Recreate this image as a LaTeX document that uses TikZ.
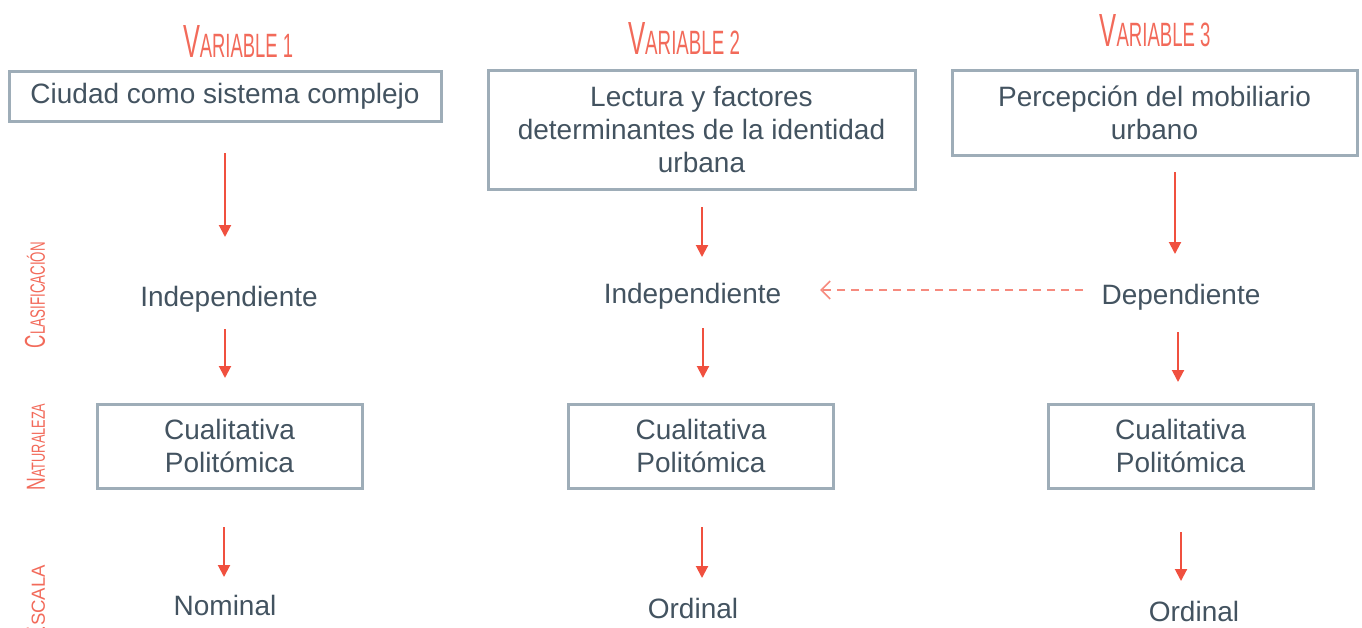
\documentclass[tikz,border=0pt]{standalone}
\usepackage{fontspec}
\setmainfont{Liberation Sans}
\usetikzlibrary{arrows.meta}
\definecolor{hdr}{HTML}{F26A5A}
\definecolor{arr}{HTML}{F0503F}
\definecolor{dashc}{HTML}{F68A7E}
\definecolor{bord}{HTML}{9EADB8}
\definecolor{txt}{HTML}{435360}
\newcommand\myhead[3]{\resizebox{#1}{#2}{\fontsize{40}{40}\selectfont V\fontsize{29}{29}\selectfont ARIABLE #3}}
\begin{document}
\begin{tikzpicture}[x=1pt,y=-1pt,
 box/.style={draw=bord, line width=3pt, text=txt, align=center, inner sep=0pt, font=\fontsize{28}{33}\selectfont},
 lbl/.style={text=txt, inner sep=0pt, anchor=base, font=\fontsize{28}{33}\selectfont},
 hd/.style={text=hdr, inner sep=0pt},
 side/.style={text=hdr, inner sep=0pt, rotate=90},
 arw/.style={draw=arr, line width=2pt, -{Triangle[width=12pt,length=12pt]}},
 darw/.style={draw=dashc, line width=1.6pt, dash pattern=on 8pt off 6pt, -{Straight Barb[width=18pt,length=9pt]}}
]
\useasboundingbox (0,0) rectangle (1362,627);
% headers
\node[hd] (h1) at (238,41) {\myhead{110pt}{32pt}{1}};
\node[hd] (h2) at (684,38) {\myhead{112pt}{32pt}{2}};
\node[hd] (h3) at (1155,31) {\myhead{111pt}{32pt}{3}};
% side labels
\node[side] (s1) at (35,295) {\resizebox{106pt}{20pt}{\fontsize{40}{40}\selectfont C\fontsize{29}{29}\selectfont LASIFICACIÓN}};
\node[side] (s2) at (36,447) {\resizebox{87pt}{18pt}{\fontsize{40}{40}\selectfont N\fontsize{29}{29}\selectfont ATURALEZA}};
\node[side] (s3) at (36,604) {\resizebox{78pt}{18pt}{\fontsize{40}{40}\selectfont E\fontsize{29}{29}\selectfont SCALA}};
% top boxes
\node[box, minimum width=432pt, minimum height=50pt] (b1) at (225,96) {Ciudad como sistema complejo};
\node[box, minimum width=427pt, minimum height=119pt] (b2) at (701.5,129.5) {Lectura y factores\\determinantes de la identidad\\urbana};
\node[box, minimum width=405pt, minimum height=85pt] (b3) at (1154.5,112.5) {Percepción del mobiliario\\urbano};
% classification
\node[lbl] (c1) at (229,306) {Independiente};
\node[lbl] (c2) at (692.5,303) {Independiente};
\node[lbl] (c3) at (1181,304) {Dependiente};
% nature boxes
\node[box, minimum width=265pt, minimum height=84pt] (n1) at (229.5,446) {Cualitativa\\Politómica};
\node[box, minimum width=265pt, minimum height=84pt] (n2) at (701,446) {Cualitativa\\Politómica};
\node[box, minimum width=265pt, minimum height=84pt] (n3) at (1180.5,446) {Cualitativa\\Politómica};
% scale
\node[lbl] (e1) at (225,615) {Nominal};
\node[lbl] (e2) at (693,618) {Ordinal};
\node[lbl] (e3) at (1194,621) {Ordinal};
% arrow end points
\coordinate (p1a) at (225,153); \coordinate (p1b) at (225,237);
\coordinate (p2a) at (702,207); \coordinate (p2b) at (702,257);
\coordinate (p3a) at (1175,172); \coordinate (p3b) at (1175,254);
\coordinate (q1a) at (225,329); \coordinate (q1b) at (225,378);
\coordinate (q2a) at (703,328); \coordinate (q2b) at (703,378);
\coordinate (q3a) at (1178,332); \coordinate (q3b) at (1178,382);
\coordinate (r1a) at (224,527); \coordinate (r1b) at (224,577);
\coordinate (r2a) at (702,527); \coordinate (r2b) at (702,578);
\coordinate (r3a) at (1181,532); \coordinate (r3b) at (1181,581);
\coordinate (da) at (1083,290); \coordinate (db) at (820,290);
\foreach \a/\b in {p1a/p1b,p2a/p2b,p3a/p3b,q1a/q1b,q2a/q2b,q3a/q3b,r1a/r1b,r2a/r2b,r3a/r3b}
  \draw[arw] (\a) -- (\b);
\draw[darw] (da) -- (db);
\end{tikzpicture}
\end{document}
